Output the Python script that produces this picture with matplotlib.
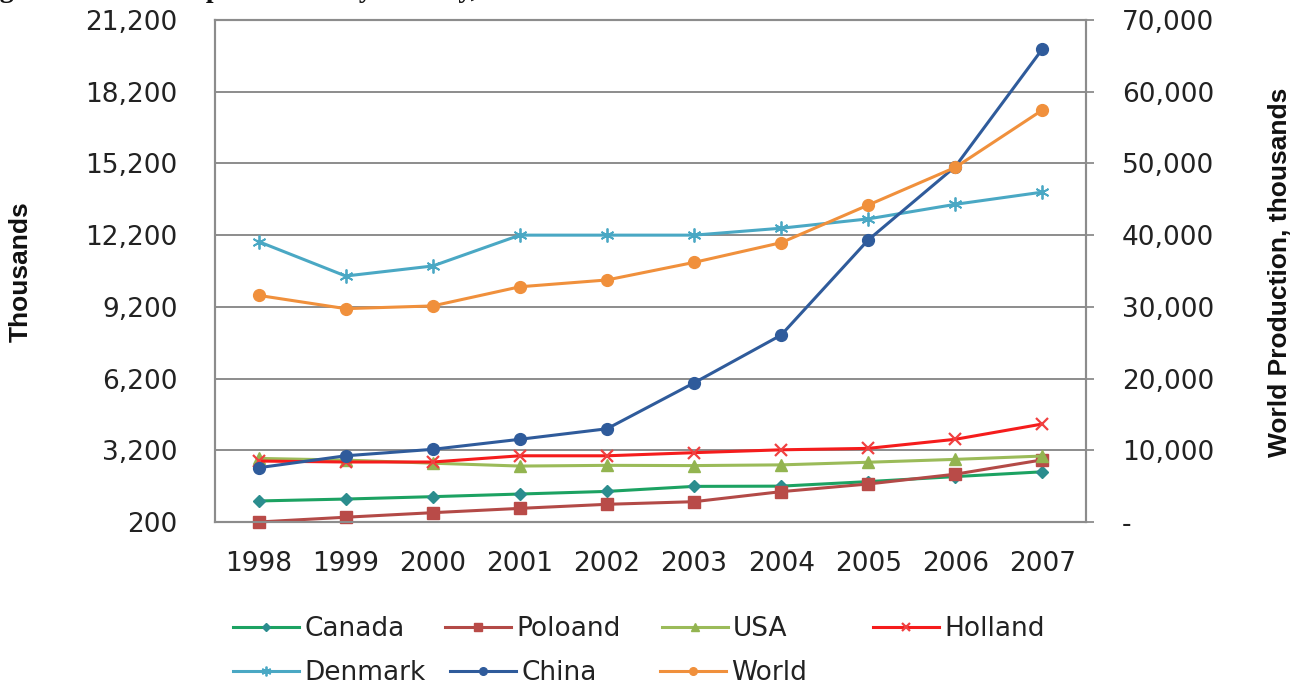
import matplotlib
matplotlib.use("Agg")
import matplotlib.pyplot as plt
from matplotlib.lines import Line2D
from matplotlib.ticker import FuncFormatter

# ---- data (thousands of pelts) ----
years = ["1998", "1999", "2000", "2001", "2002", "2003", "2004", "2005", "2006", "2007"]
canada = [1080, 1160, 1260, 1370, 1480, 1690, 1700, 1890, 2100, 2300]
poland = [200, 400, 590, 770, 940, 1050, 1470, 1790, 2200, 2800]
usa = [2860, 2790, 2660, 2540, 2570, 2560, 2590, 2700, 2820, 2960]
holland = [2750, 2710, 2710, 2970, 2970, 3100, 3220, 3280, 3660, 4300]
denmark = [11930, 10490, 10910, 12200, 12200, 12200, 12490, 12880, 13490, 14000]
china = [2470, 2970, 3240, 3660, 4100, 6020, 8020, 12000, 15070, 19990]
world = [31600, 29750, 30130, 32800, 33750, 36200, 38950, 44200, 49450, 57450]

left_ticks = [200, 3200, 6200, 9200, 12200, 15200, 18200, 21200]
right_ticks = [0, 10000, 20000, 30000, 40000, 50000, 60000, 70000]

# ---- figure layout ----
W, H = 1302, 686
fig = plt.figure(figsize=(W / 100, H / 100), dpi=100)
fig.patch.set_facecolor("white")

ax = fig.add_axes([215 / W, 164 / H, (1086 - 215) / W, (522 - 20) / H])
ax2 = ax.twinx()

GRID = "#8c8c8c"
TXT = "#222222"
tick_font = dict(family="DejaVu Sans", size=19)

x = list(range(len(years)))

styles = {
    "Canada": dict(color="#1ca262", marker="D", mfc="#2b8d8e", mec="#2b8d8e"),
    "Poloand": dict(color="#b34a47", marker="s", mfc="#b94b48", mec="#b94b48"),
    "USA": dict(color="#9bbb59", marker="^", mfc="#93b450", mec="#93b450"),
    "Holland": dict(color="#f51c1c", marker="x", mfc="none", mec="#f04040"),
    "Denmark": dict(color="#4aa8c4", marker=(6, 2, 0), mfc="none", mec="#4aa8c4"),
    "China": dict(color="#2f5b9b", marker="o", mfc="#2f5b9b", mec="#2f5b9b"),
    "World": dict(color="#f0903c", marker="o", mfc="#f0903c", mec="#f0903c"),
}
sizes = {"Canada": 6.5, "Poloand": 8, "USA": 8, "Holland": 9,
         "Denmark": 10, "China": 8.5, "World": 8.5}
mews = {"Holland": 1.6, "Denmark": 1.3}

left_series = [("Canada", canada), ("Poloand", poland), ("USA", usa),
               ("Holland", holland), ("Denmark", denmark), ("China", china)]

for name, vals in left_series:
    st = styles[name]
    ax.plot(x, vals, lw=2.2, ms=sizes[name], mew=mews.get(name, 1.0),
            clip_on=False, zorder=3, label=name, **st)

ax2.plot(x, world, lw=2.2, ms=sizes["World"], clip_on=False, zorder=3,
         label="World", **styles["World"])

# ---- axes ----
ax.set_xlim(-0.5, len(years) - 0.5)
ax.set_ylim(left_ticks[0], left_ticks[-1])
ax2.set_ylim(right_ticks[0], right_ticks[-1])

ax.set_yticks(left_ticks)
ax.yaxis.set_major_formatter(FuncFormatter(lambda v, p: f"{int(v):,}"))
ax2.set_yticks(right_ticks)
ax2.yaxis.set_major_formatter(FuncFormatter(lambda v, p: "-" if v == 0 else f"{int(v):,}"))
ax.set_xticks(x)
ax.set_xticklabels(years)

ax.yaxis.grid(True, color=GRID, lw=1.4)
ax.set_axisbelow(True)

for a in (ax, ax2):
    for s in a.spines.values():
        s.set_color(GRID)
        s.set_linewidth(1.5)

ax.tick_params(axis="y", length=0, pad=27, labelcolor=TXT)
ax.tick_params(axis="x", length=0, pad=21, labelcolor=TXT)
ax2.tick_params(axis="y", length=5.8, width=1.3, color=GRID, direction="out",
                pad=20, labelcolor=TXT)
for lbl in ax.get_xticklabels() + ax.get_yticklabels() + ax2.get_yticklabels():
    lbl.set_fontfamily(tick_font["family"])
    lbl.set_fontsize(tick_font["size"])

# ---- axis titles ----
fig.text(21 / W, 1 - 272 / H, "Thousands", rotation=90, ha="center", va="center",
         family="Liberation Sans", weight="bold", size=19, color="#111111")
fig.text(1280 / W, 1 - 272 / H, "World Production, thousands", rotation=90,
         ha="center", va="center", family="Liberation Sans", weight="bold",
         size=19, color="#111111")

# ---- chart title (runs above the top edge) ----
fig.text(-25 / W, 1 + 3 / H, "Figure 1: Mink fur production by country, 1998-2007",
         ha="left", va="baseline", family="Liberation Serif", weight="bold",
         size=20, color="#111111")

# ---- legend, laid out in two rows ----
legend_slots = [("Canada", 233, 629), ("Poloand", 445, 629), ("USA", 662, 629),
                ("Holland", 873, 629), ("Denmark", 233, 673), ("China", 450, 673),
                ("World", 660, 673)]
leg_ms = {"Canada": 4.5, "Poloand": 5.5, "USA": 5.5, "Holland": 6,
          "Denmark": 7, "China": 5.5, "World": 5.5}
for name, hx, hy in legend_slots:
    proxy = Line2D([], [], lw=2.2, ms=leg_ms[name], mew=mews.get(name, 1.0),
                   **styles[name])
    leg = fig.legend(handles=[proxy], labels=[name], loc="center left",
                     bbox_to_anchor=(hx / W, 1 - hy / H), frameon=False,
                     borderpad=0, borderaxespad=0, handlelength=2.5,
                     handletextpad=0.2, numpoints=1,
                     prop=dict(family=tick_font["family"], size=tick_font["size"]))
    for t in leg.get_texts():
        t.set_color(TXT)

fig.savefig("out.png", dpi=100)
